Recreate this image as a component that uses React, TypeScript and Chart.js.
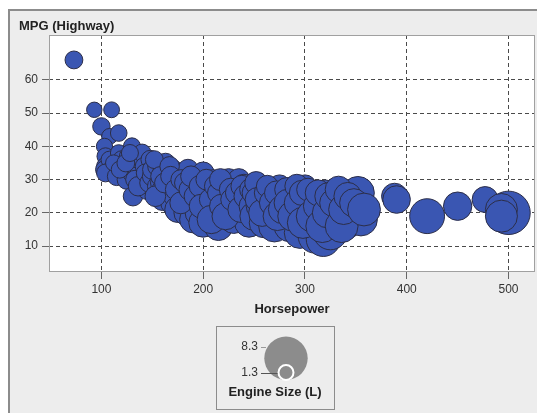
import { useEffect, useRef } from "react";
import { Chart, registerables } from "chart.js";

Chart.register(...registerables);

// [horsepower, mpgHighway, engineSizeL]
const economyCars: [number, number, number][] = [
  [73, 66, 2.0], [93, 51, 1.4], [110, 51, 1.5], [100, 46, 1.9], [108, 43, 1.5], [117, 44, 1.7],
  [103, 40, 1.6], [104, 37, 1.8], [104, 34, 2.0], [103, 33, 2.0], [108, 36, 1.8], [110, 33, 2.0],
  [104, 32, 2.0], [115, 31, 2.2], [115, 35, 2.0], [117, 38, 1.7], [120, 36, 2.0], [122, 33, 2.0],
  [125, 30, 2.4], [126, 37, 1.8], [130, 40, 1.8], [130, 35, 2.0], [130, 32, 2.2], [131, 25, 2.4],
  [135, 33, 2.0], [138, 36, 2.4], [140, 30, 2.3], [140, 38, 2.0], [142, 34, 2.0], [145, 27, 2.5],
  [148, 36, 2.2], [112, 35, 1.6], [118, 33, 1.8], [124, 35, 2.0], [128, 38, 1.8], [133, 30, 2.2],
  [136, 28, 2.4], [143, 32, 2.0], [147, 29, 2.3],
];

const midCars: [number, number, number][] = [
  [150, 31, 2.5], [150, 33, 2.4], [155, 28, 2.5], [155, 34, 2.4], [157, 29, 2.0], [160, 24, 3.0],
  [160, 32, 2.5], [160, 27, 2.7], [163, 35, 2.4], [165, 30, 2.5], [165, 26, 3.0], [170, 33, 2.5],
  [170, 28, 2.5], [170, 23, 3.5], [172, 25, 3.0], [175, 31, 2.5], [175, 29, 2.4], [175, 21, 4.0],
  [180, 27, 3.0], [180, 32, 2.5], [180, 24, 3.0], [184, 20, 4.0], [185, 30, 2.5], [185, 33, 2.7],
  [185, 26, 2.7], [190, 22, 3.3], [190, 28, 3.0], [190, 18, 4.2], [193, 24, 3.5], [195, 31, 2.5],
  [195, 20, 4.0], [200, 26, 3.0], [200, 29, 3.0], [200, 32, 3.0], [200, 23, 3.5], [200, 17, 4.7],
  [205, 21, 3.5], [205, 27, 3.0], [210, 25, 3.3], [210, 30, 2.5], [210, 19, 4.0], [215, 16, 4.7],
  [215, 23, 3.5], [220, 28, 3.0], [220, 26, 3.0], [220, 20, 4.0], [225, 24, 3.2], [225, 30, 3.0],
  [230, 18, 4.5], [230, 27, 3.0], [232, 22, 3.5], [235, 29, 2.7], [235, 30, 3.0], [235, 25, 3.3],
  [240, 20, 4.2], [240, 28, 3.5], [245, 23, 3.5], [245, 17, 4.7], [238, 22, 1.3],
  [152, 36, 2.0], [153, 25, 2.7], [158, 31, 2.4], [162, 29, 2.5], [167, 34, 2.4], [168, 31, 2.5],
  [173, 27, 2.7], [178, 30, 2.5], [178, 23, 3.0], [182, 29, 2.7], [187, 27, 3.0], [188, 31, 2.7],
  [192, 25, 3.0], [197, 28, 3.0], [198, 22, 3.5], [203, 30, 2.7], [207, 24, 3.0], [208, 18, 4.6],
  [212, 28, 3.0], [215, 26, 3.0], [217, 30, 3.0], [218, 22, 3.5], [222, 19, 4.3], [227, 27, 3.2],
  [228, 24, 3.0], [233, 26, 3.2], [237, 21, 4.0], [238, 28, 3.0], [242, 25, 3.5], [247, 27, 3.2],
  [248, 22, 4.0],
];

const largeCars: [number, number, number][] = [
  [250, 26, 3.5], [250, 19, 4.6], [255, 28, 3.5], [255, 22, 4.0], [260, 24, 4.0], [260, 17, 5.0],
  [265, 27, 3.2], [265, 20, 4.2], [270, 25, 3.5], [270, 16, 5.4], [275, 28, 3.2], [275, 22, 4.2],
  [280, 24, 3.5], [280, 19, 4.5], [285, 27, 3.5], [285, 16, 5.3], [290, 21, 4.4], [290, 25, 4.0],
  [295, 18, 5.3], [295, 14, 5.3], [300, 28, 3.2], [300, 24, 4.2], [300, 20, 4.5], [302, 26, 4.0],
  [305, 16, 5.7], [305, 22, 5.0], [310, 13, 6.0], [310, 25, 4.2], [315, 19, 5.0], [318, 12, 6.0],
  [320, 23, 4.6], [320, 26, 4.0], [325, 17, 5.4], [325, 14, 6.0], [330, 25, 4.4], [330, 21, 5.0],
  [335, 19, 5.0], [340, 23, 4.6], [340, 17, 5.7], [345, 26, 4.2], [345, 20, 5.0], [350, 25, 5.7],
  [350, 21, 4.4], [355, 18, 5.7], [352, 26, 5.7],
  [252, 29, 3.2], [253, 24, 3.5], [258, 20, 4.3], [262, 26, 3.5], [263, 28, 3.0], [268, 23, 4.0],
  [272, 26, 3.5], [273, 19, 4.7], [278, 21, 4.6], [282, 27, 3.5], [283, 23, 4.3], [288, 19, 5.0],
  [292, 28, 3.5], [293, 23, 4.3], [297, 26, 3.8], [298, 17, 5.3], [303, 27, 3.2], [307, 19, 5.4],
  [312, 22, 4.4], [313, 26, 4.0], [317, 16, 5.7], [322, 20, 5.0], [323, 25, 4.3], [328, 23, 4.4],
  [333, 27, 4.2], [336, 16, 5.7], [338, 21, 5.0], [342, 25, 4.4], [348, 23, 4.6], [358, 21, 5.7],
];

const highPowerCars: [number, number, number][] = [
  [388, 25, 4.0], [390, 24, 4.4], [420, 19, 6.2], [450, 22, 4.6], [477, 24, 4.0],
  [500, 20, 8.3], [493, 21, 5.5], [493, 19, 5.5],
];

const xTicks = [100, 200, 300, 400, 500];
const yTicks = [10, 20, 30, 40, 50, 60];
const sizeLegendValues = [8.3, 1.3];

const MIN_SIZE = 1.3;
const MAX_SIZE = 8.3;
const MIN_R = 7.5;
const MAX_R = 21.7;
const radiusFor = (s: number) => MIN_R + ((s - MIN_SIZE) / (MAX_SIZE - MIN_SIZE)) * (MAX_R - MIN_R);

const FONT = '"Liberation Sans", Arial, Helvetica, sans-serif';

const framePlugin = {
  id: "sasFrame",
  beforeDraw(chart: any) {
    const { ctx, chartArea: a } = chart;
    ctx.save();
    ctx.fillStyle = "#ffffff";
    ctx.fillRect(0, 0, chart.width, chart.height);
    ctx.fillStyle = "#ededed";
    ctx.fillRect(8, 9, chart.width, chart.height);
    ctx.strokeStyle = "#8c8c8c";
    ctx.lineWidth = 2;
    ctx.strokeRect(9, 10, chart.width + 10, chart.height + 10);
    ctx.fillStyle = "#ffffff";
    ctx.fillRect(a.left, a.top, a.right - a.left, a.bottom - a.top);
    ctx.restore();
  },
  afterDraw(chart: any) {
    const { ctx, chartArea: a } = chart;
    ctx.save();
    ctx.strokeStyle = "#a0a0a0";
    ctx.lineWidth = 1;
    ctx.strokeRect(a.left + 0.5, a.top + 0.5, a.right - a.left - 1, a.bottom - a.top - 1);

    ctx.fillStyle = "#222";
    ctx.font = `bold 13px ${FONT}`;
    ctx.textBaseline = "middle";
    ctx.textAlign = "left";
    ctx.fillText("MPG (Highway)", 19, 26);
    ctx.textAlign = "center";
    ctx.fillText("Horsepower", (a.left + a.right) / 2, 309);

    // size legend
    const bx = 216, by = 326, bw = 118, bh = 83;
    ctx.strokeStyle = "#8c8c8c";
    ctx.lineWidth = 1;
    ctx.strokeRect(bx + 0.5, by + 0.5, bw, bh);
    const cx = 286;
    const base = 380;
    const [bigVal, smallVal] = sizeLegendValues;
    const rBig = radiusFor(bigVal);
    const rSmall = radiusFor(smallVal);
    ctx.fillStyle = "#8c8c8c";
    ctx.beginPath();
    ctx.arc(cx, base - rBig, rBig, 0, Math.PI * 2);
    ctx.fill();
    ctx.beginPath();
    ctx.arc(cx, base - rSmall, rSmall, 0, Math.PI * 2);
    ctx.fill();
    ctx.strokeStyle = "#ffffff";
    ctx.lineWidth = 2;
    ctx.stroke();

    ctx.font = `12px ${FONT}`;
    ctx.fillStyle = "#333";
    ctx.textAlign = "right";
    const yBig = base - 2 * rBig + 10;
    const ySmall = base - rSmall;
    ctx.fillText(String(bigVal), 258, yBig);
    ctx.fillText(String(smallVal), 258, ySmall);
    ctx.lineWidth = 1;
    ctx.strokeStyle = "#999";
    ctx.beginPath();
    ctx.moveTo(261, Math.round(yBig) + 0.5);
    ctx.lineTo(266, Math.round(yBig) + 0.5);
    ctx.stroke();
    ctx.strokeStyle = "#555";
    ctx.beginPath();
    ctx.moveTo(261, Math.round(ySmall) + 0.5);
    ctx.lineTo(cx - rSmall - 1, Math.round(ySmall) + 0.5);
    ctx.stroke();

    ctx.font = `bold 13px ${FONT}`;
    ctx.fillStyle = "#222";
    ctx.textAlign = "center";
    ctx.fillText("Engine Size (L)", bx + bw / 2, 392);
    ctx.restore();
  },
};

export default function App() {
  const canvasRef = useRef<HTMLCanvasElement | null>(null);

  useEffect(() => {
    if (!canvasRef.current) return;
    const all = [...economyCars, ...midCars, ...largeCars, ...highPowerCars];
    const chart = new Chart(canvasRef.current, {
      type: "bubble",
      data: {
        datasets: [
          {
            label: "Cars",
            data: all.map(([hp, mpg, size]) => ({ x: hp, y: mpg, r: radiusFor(size) })),
            backgroundColor: "rgb(58,86,178)",
            borderColor: "rgb(44,46,72)",
            borderWidth: 1,
            clip: false,
          } as any,
        ],
      },
      options: {
        responsive: false,
        animation: false,
        layout: { autoPadding: false, padding: { left: 0, top: 35, right: 2, bottom: 111 } },
        plugins: { legend: { display: false }, tooltip: { enabled: false } },
        scales: {
          x: {
            type: "linear",
            min: 48.5,
            max: 526,
            afterBuildTicks: (s: any) => {
              s.ticks = xTicks.map((v) => ({ value: v }));
            },
            afterFit: (s: any) => {
              s.height = 30;
              s.paddingLeft = 0;
              s.paddingRight = 0;
            },
            ticks: {
              font: { family: FONT, size: 12 },
              color: "#333",
              padding: 3,
              maxRotation: 0,
              autoSkip: false,
            },
            grid: {
              color: "#4a4a4a",
              lineWidth: 1,
              tickLength: 7,
              tickColor: "#666",
              tickBorderDash: [],
            },
            border: { display: false, dash: [4, 3] },
          },
          y: {
            type: "linear",
            min: 2.2,
            max: 73.5,
            afterBuildTicks: (s: any) => {
              s.ticks = yTicks.map((v) => ({ value: v }));
            },
            afterFit: (s: any) => {
              s.width = 49;
              s.paddingTop = 0;
              s.paddingBottom = 0;
            },
            ticks: {
              font: { family: FONT, size: 12 },
              color: "#333",
              padding: 4,
              autoSkip: false,
            },
            grid: {
              color: "#4a4a4a",
              lineWidth: 1,
              tickLength: 7,
              tickColor: "#666",
              tickBorderDash: [],
            },
            border: { display: false, dash: [4, 3] },
          },
        },
      },
      plugins: [framePlugin],
    });
    return () => chart.destroy();
  }, []);

  return (
    <div style={{ position: "absolute", left: 0, top: 0, width: 537, height: 413 }}>
      <canvas ref={canvasRef} width={537} height={413} style={{ display: "block" }} />
    </div>
  );
}
